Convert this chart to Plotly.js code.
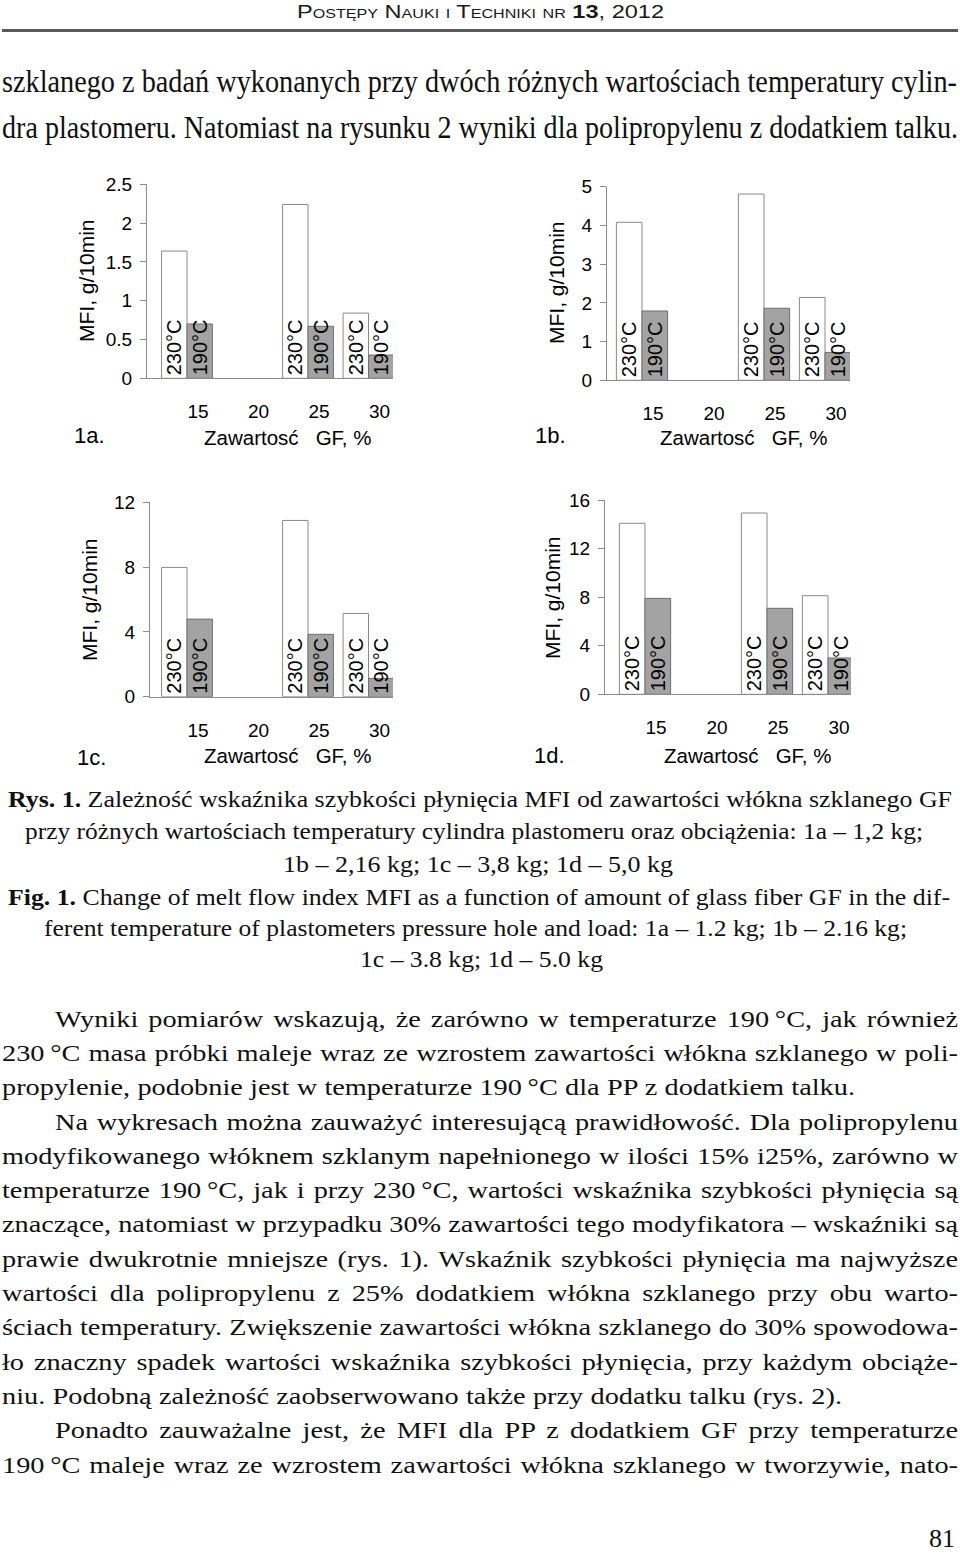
<!DOCTYPE html>
<html><head><meta charset="utf-8">
<script src="https://cdn.plot.ly/plotly-3.0.1.min.js"></script>
<style>
html,body{margin:0;padding:0;background:#fff;}
#page{position:relative;width:960px;height:1557px;overflow:hidden;background:#fff;}
#plot{position:absolute;left:0;top:0;width:960px;height:1557px;}
.ln{position:absolute;white-space:nowrap;line-height:1;color:#111;display:inline-block;}
.serif{font-family:"Liberation Serif","Times New Roman",serif;}
.hdr{font-family:"Liberation Sans",Arial,sans-serif;font-variant:small-caps;color:#1a1a1a;}
#rule{position:absolute;left:2px;width:956px;top:29px;height:3px;background:#5a5a5a;}
</style></head><body>
<div id="page"><div id="plot"></div><div id="rule"></div></div>
<script>
// ---------------- chart data ----------------
const categories = ['15', '20', '25', '30'];
const seriesLabels = ['230°C', '190°C'];
// 1a – 1,2 kg
const mfi1a_230 = [1.64, null, 2.24, 0.84];
const mfi1a_190 = [0.70, null, 0.67, 0.30];
// 1b – 2,16 kg
const mfi1b_230 = [4.08, null, 4.81, 2.14];
const mfi1b_190 = [1.79, null, 1.86, 0.72];
// 1c – 3,8 kg
const mfi1c_230 = [7.98, null, 10.88, 5.14];
const mfi1c_190 = [4.79, null, 3.85, 1.13];
// 1d – 5,0 kg
const mfi1d_230 = [14.08, null, 14.93, 8.12];
const mfi1d_190 = [7.90, null, 7.08, 2.99];
const panelNames = ['1a.', '1b.', '1c.', '1d.'];
const yTitle = 'MFI, g/10min';
const xTitle = 'Zawartosć\u00a0\u00a0 GF, %';

// ---------------- figure ----------------
const W = 960, H = 1557;
const fx = p => p / W;
const fy = p => 1 - p / H;
const SANS = '"Liberation Sans", Arial, sans-serif';
const AX = '#8c8c8c';

const panels = [
  {s230: mfi1a_230, s190: mfi1a_190, box: [147, 393, 184.3, 378.3], c0: 187, step: 60.5, ymax: 2.5, dtick: 0.5,
   ytl: [86, 281], xtl: [287, 437], lab: [89, 435]},
  {s230: mfi1b_230, s190: mfi1b_190, box: [607, 850, 186.7, 380.3], c0: 642, step: 61, ymax: 5, dtick: 1,
   ytl: [557, 283], xtl: [743, 437], lab: [550, 435]},
  {s230: mfi1c_230, s190: mfi1c_190, box: [150, 393, 502.3, 696.7], c0: 187, step: 60.5, ymax: 12, dtick: 4,
   ytl: [90, 600], xtl: [287, 755], lab: [91, 757]},
  {s230: mfi1d_230, s190: mfi1d_190, box: [605, 851, 500, 694.3], c0: 645, step: 61, ymax: 16, dtick: 4,
   ytl: [552, 598], xtl: [747, 755], lab: [549, 755]}
];

const traces = [];
const layout = {
  width: W, height: H, margin: {l: 0, r: 0, t: 0, b: 0},
  paper_bgcolor: 'rgba(0,0,0,0)', plot_bgcolor: 'rgba(0,0,0,0)',
  showlegend: false, barmode: 'group', bargap: 0.16, bargroupgap: 0,
  font: {family: SANS, color: '#000', size: 19},
  annotations: []
};

panels.forEach((p, i) => {
  const n = i === 0 ? '' : String(i + 1);
  const xa = 'x' + n, ya = 'y' + n;
  const fillc = ['#ffffff', '#a3a3a3'];
  const linec = ['#8a8a8a', '#6e6e6e'];
  [p.s230, p.s190].forEach((vals, k) => {
    traces.push({
      type: 'bar', x: categories, y: vals, xaxis: xa, yaxis: ya,
      name: seriesLabels[k],
      text: vals.map(v => v == null ? '' : seriesLabels[k]),
      textposition: 'inside', insidetextanchor: 'start', textangle: -90,
      constraintext: 'none', cliponaxis: false,
      insidetextfont: {family: SANS, size: 20, color: '#000'},
      marker: {color: fillc[k], line: {color: linec[k], width: 1}},
      hoverinfo: 'skip'
    });
  });
  const [l, r, t, b] = p.box;
  layout['xaxis' + n] = {
    domain: [fx(l), fx(r)], anchor: ya, type: 'category',
    range: [(l - p.c0) / p.step, (r - p.c0) / p.step],
    showline: true, linecolor: AX, linewidth: 1, ticks: '', showgrid: false, zeroline: false,
    tickfont: {family: SANS, size: 19, color: '#000'},
    ticklabelshift: 11, ticklabelstandoff: 16, fixedrange: true
  };
  layout['yaxis' + n] = {
    domain: [fy(b), fy(t)], anchor: xa, range: [0, p.ymax], dtick: p.dtick, tick0: 0,
    showline: true, linecolor: AX, linewidth: 1, ticks: 'outside', ticklen: 6, tickcolor: AX,
    showgrid: false, zeroline: false, ticklabelstandoff: 4,
    tickfont: {family: SANS, size: 19, color: '#000'}, fixedrange: true
  };
  layout.annotations.push(
    {xref: 'paper', yref: 'paper', x: fx(p.ytl[0]), y: fy(p.ytl[1]), text: yTitle, textangle: -90,
     showarrow: false, xanchor: 'center', yanchor: 'middle', font: {family: SANS, size: 21, color: '#000'}},
    {xref: 'paper', yref: 'paper', x: fx(p.xtl[0]), y: fy(p.xtl[1]), text: xTitle,
     showarrow: false, xanchor: 'center', yanchor: 'middle', font: {family: SANS, size: 20.5, color: '#000'}},
    {xref: 'paper', yref: 'paper', x: fx(p.lab[0]), y: fy(p.lab[1]), text: panelNames[i],
     showarrow: false, xanchor: 'center', yanchor: 'middle', font: {family: SANS, size: 22, color: '#000'}}
  );
});

Plotly.newPlot('plot', traces, layout, {staticPlot: true, displayModeBar: false});

// ---------------- page text ----------------
const SER = 0.891, SAN = 0.905;
const SX = 1.18;   // horizontal stretch of the scanned body type
const lines = [
  {cls: 'hdr', html: 'Postępy Nauki i Techniki nr <b>13</b>, 2012', left: 297, right: 664, base: 19, size: 19, asc: SAN, mode: 'scale'},
  {html: 'szklanego z badań wykonanych przy dwóch różnych wartościach temperatury cylin-', left: 2, right: 957, base: 94, size: 32, sx: 1},
  {html: 'dra plastomeru. Natomiast na rysunku 2 wyniki dla polipropylenu z dodatkiem talku.', left: 2, right: 958, base: 140, size: 32, sx: 1},

  {html: '<b>Rys. 1.</b> Zależność wskaźnika szybkości płynięcia MFI od zawartości włókna szklanego GF', left: 8, right: 952, base: 808, size: 24},
  {html: 'przy różnych wartościach temperatury cylindra plastomeru oraz obciążenia: 1a – 1,2 kg;', left: 25, right: 923, base: 840, size: 24},
  {html: '1b – 2,16 kg; 1c – 3,8 kg; 1d – 5,0 kg', left: 283, right: 673, base: 873, size: 24},
  {html: '<b>Fig. 1.</b> Change of melt flow index MFI as a function of amount of glass fiber GF in the dif-', left: 8, right: 950, base: 906, size: 24},
  {html: 'ferent temperature of plastometers pressure hole and load: 1a – 1.2 kg; 1b – 2.16 kg;', left: 44, right: 907, base: 937, size: 24},
  {html: '1c – 3.8 kg; 1d – 5.0 kg', left: 360, right: 603, base: 968, size: 24},

  {html: 'Wyniki pomiarów wskazują, że zarówno w temperaturze 190\u2009°C, jak również', left: 55, right: 958, k: 0},
  {html: '230\u2009°C masa próbki maleje wraz ze wzrostem zawartości włókna szklanego w poli-', left: 2, right: 958, k: 1},
  {html: 'propylenie, podobnie jest w temperaturze 190\u2009°C dla PP z dodatkiem talku.', left: 2, right: 855, k: 2},
  {html: 'Na wykresach można zauważyć interesującą prawidłowość. Dla polipropylenu', left: 55, right: 958, k: 3},
  {html: 'modyfikowanego włóknem szklanym napełnionego w ilości 15% i25%, zarówno w', left: 2, right: 958, k: 4},
  {html: 'temperaturze 190\u2009°C, jak i przy 230\u2009°C, wartości wskaźnika szybkości płynięcia są', left: 2, right: 958, k: 5},
  {html: 'znaczące, natomiast w przypadku 30% zawartości tego modyfikatora – wskaźniki są', left: 2, right: 958, k: 6},
  {html: 'prawie dwukrotnie mniejsze (rys. 1). Wskaźnik szybkości płynięcia ma najwyższe', left: 2, right: 958, k: 7},
  {html: 'wartości dla polipropylenu z 25% dodatkiem włókna szklanego przy obu warto-', left: 2, right: 958, k: 8},
  {html: 'ściach temperatury. Zwiększenie zawartości włókna szklanego do 30% spowodowa-', left: 2, right: 958, k: 9},
  {html: 'ło znaczny spadek wartości wskaźnika szybkości płynięcia, przy każdym obciąże-', left: 2, right: 958, k: 10},
  {html: 'niu. Podobną zależność zaobserwowano także przy dodatku talku (rys. 2).', left: 2, right: 842, k: 11},
  {html: 'Ponadto zauważalne jest, że MFI dla PP z dodatkiem GF przy temperaturze', left: 55, right: 958, k: 12},
  {html: '190\u2009°C maleje wraz ze wzrostem zawartości włókna szklanego w tworzywie, nato-', left: 2, right: 958, k: 13},
  {html: '81', left: 929, right: 955, base: 1549, size: 26, mode: 'scale'}
];

const page = document.getElementById('page');
const els = lines.map(o => {
  if (o.k != null) { o.base = 1028 + 34.3 * o.k; o.size = 24; }
  o.asc = o.asc || SER; o.mode = o.mode || 'justify';
  if (o.sx == null) o.sx = SX;
  const el = document.createElement('div');
  el.className = 'ln ' + (o.cls || 'serif');
  el.innerHTML = o.html;
  page.appendChild(el);
  return [el, o];
});

function fit() {
  els.forEach(([el, o]) => {
    el.style.fontSize = o.size + 'px';
    el.style.left = o.left + 'px';
    el.style.top = (o.base - o.asc * o.size) + 'px';
    el.style.wordSpacing = '0px';
    el.style.transform = 'none';
    el.style.transformOrigin = '0 0';
    const w = el.getBoundingClientRect().width;
    const target = o.right - o.left;
    const nsp = (el.textContent.match(/ /g) || []).length;
    if (o.mode === 'justify' && w * o.sx <= target && nsp > 0) {
      el.style.wordSpacing = ((target - w * o.sx) / nsp / o.sx) + 'px';
      el.style.transform = 'scaleX(' + o.sx + ')';
    } else {
      el.style.transform = 'scaleX(' + (target / w) + ')';
    }
  });
}
fit();
if (document.fonts && document.fonts.ready) document.fonts.ready.then(fit);
</script>
</body></html>
